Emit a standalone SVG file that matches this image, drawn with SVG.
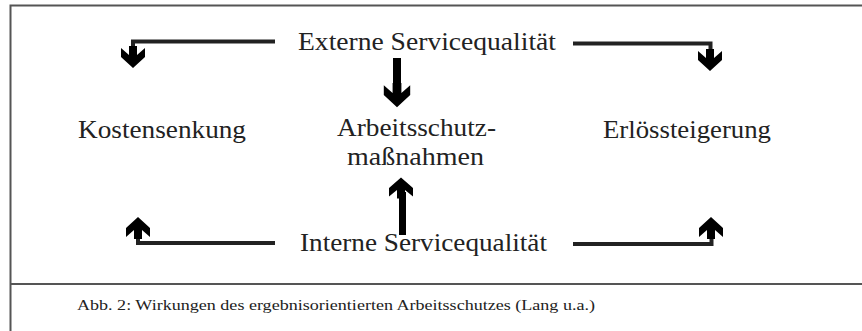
<svg xmlns="http://www.w3.org/2000/svg" width="862" height="331" viewBox="0 0 862 331">
<style>
.t{font-family:"Liberation Serif","Times New Roman",serif;font-size:25px;fill:#222;text-anchor:middle}
.cap{font-family:"Liberation Serif","Times New Roman",serif;font-size:15.5px;fill:#222}
.ln{stroke:#222;stroke-width:4;fill:none}
.hd{fill:#000}
.fr{stroke:#555;stroke-width:2;fill:none}
</style>
<defs>
<path id="down" d="M-4,-10 L4,-10 L4,-1 L12,-8 L12,1 L0,12 L-12,1 L-12,-8 L-4,-1 Z"/>
</defs>
<g id="frame">
<path class="fr" d="M10.5,331 V5.5 H862"/>
<path class="fr" d="M10.5,284 H862"/>
</g>
<g id="connectors">
<path class="ln" d="M275,41.5 H133 V52"/>
<use href="#down" class="hd" transform="translate(133,56)"/>
<path class="ln" d="M573,43.5 H710.5 V55"/>
<use href="#down" class="hd" transform="translate(710,59)"/>
<rect class="hd" x="393" y="58" width="8" height="30"/>
<use href="#down" class="hd" transform="translate(397,94) scale(1.1)"/>
<path class="ln" d="M275,243 H138 V230"/>
<use href="#down" class="hd" transform="translate(138,229) scale(1,-1)"/>
<path class="ln" d="M573,244 H711.5 V230"/>
<use href="#down" class="hd" transform="translate(711,229) scale(1,-1)"/>
<rect class="hd" x="399" y="192" width="7" height="43"/>
<use href="#down" class="hd" transform="translate(401,189) scale(1,-0.95)"/>
</g>
<g id="n-extern"><text class="t" x="427" y="50" textLength="258" lengthAdjust="spacingAndGlyphs">Externe Servicequalität</text></g>
<g id="n-kosten"><text class="t" x="162" y="138" textLength="168" lengthAdjust="spacingAndGlyphs">Kostensenkung</text></g>
<g id="n-arbeit"><text class="t" x="416.5" y="136" textLength="159" lengthAdjust="spacingAndGlyphs">Arbeitsschutz-</text><text class="t" x="415.5" y="165" textLength="137" lengthAdjust="spacingAndGlyphs">maßnahmen</text></g>
<g id="n-erloes"><text class="t" x="687" y="138" textLength="168" lengthAdjust="spacingAndGlyphs">Erlössteigerung</text></g>
<g id="n-intern"><text class="t" x="423.5" y="251" textLength="247" lengthAdjust="spacingAndGlyphs">Interne Servicequalität</text></g>
<g id="caption"><text class="cap" x="77" y="310" textLength="518" lengthAdjust="spacingAndGlyphs">Abb. 2: Wirkungen des ergebnisorientierten Arbeitsschutzes (Lang u.a.)</text></g>
</svg>
